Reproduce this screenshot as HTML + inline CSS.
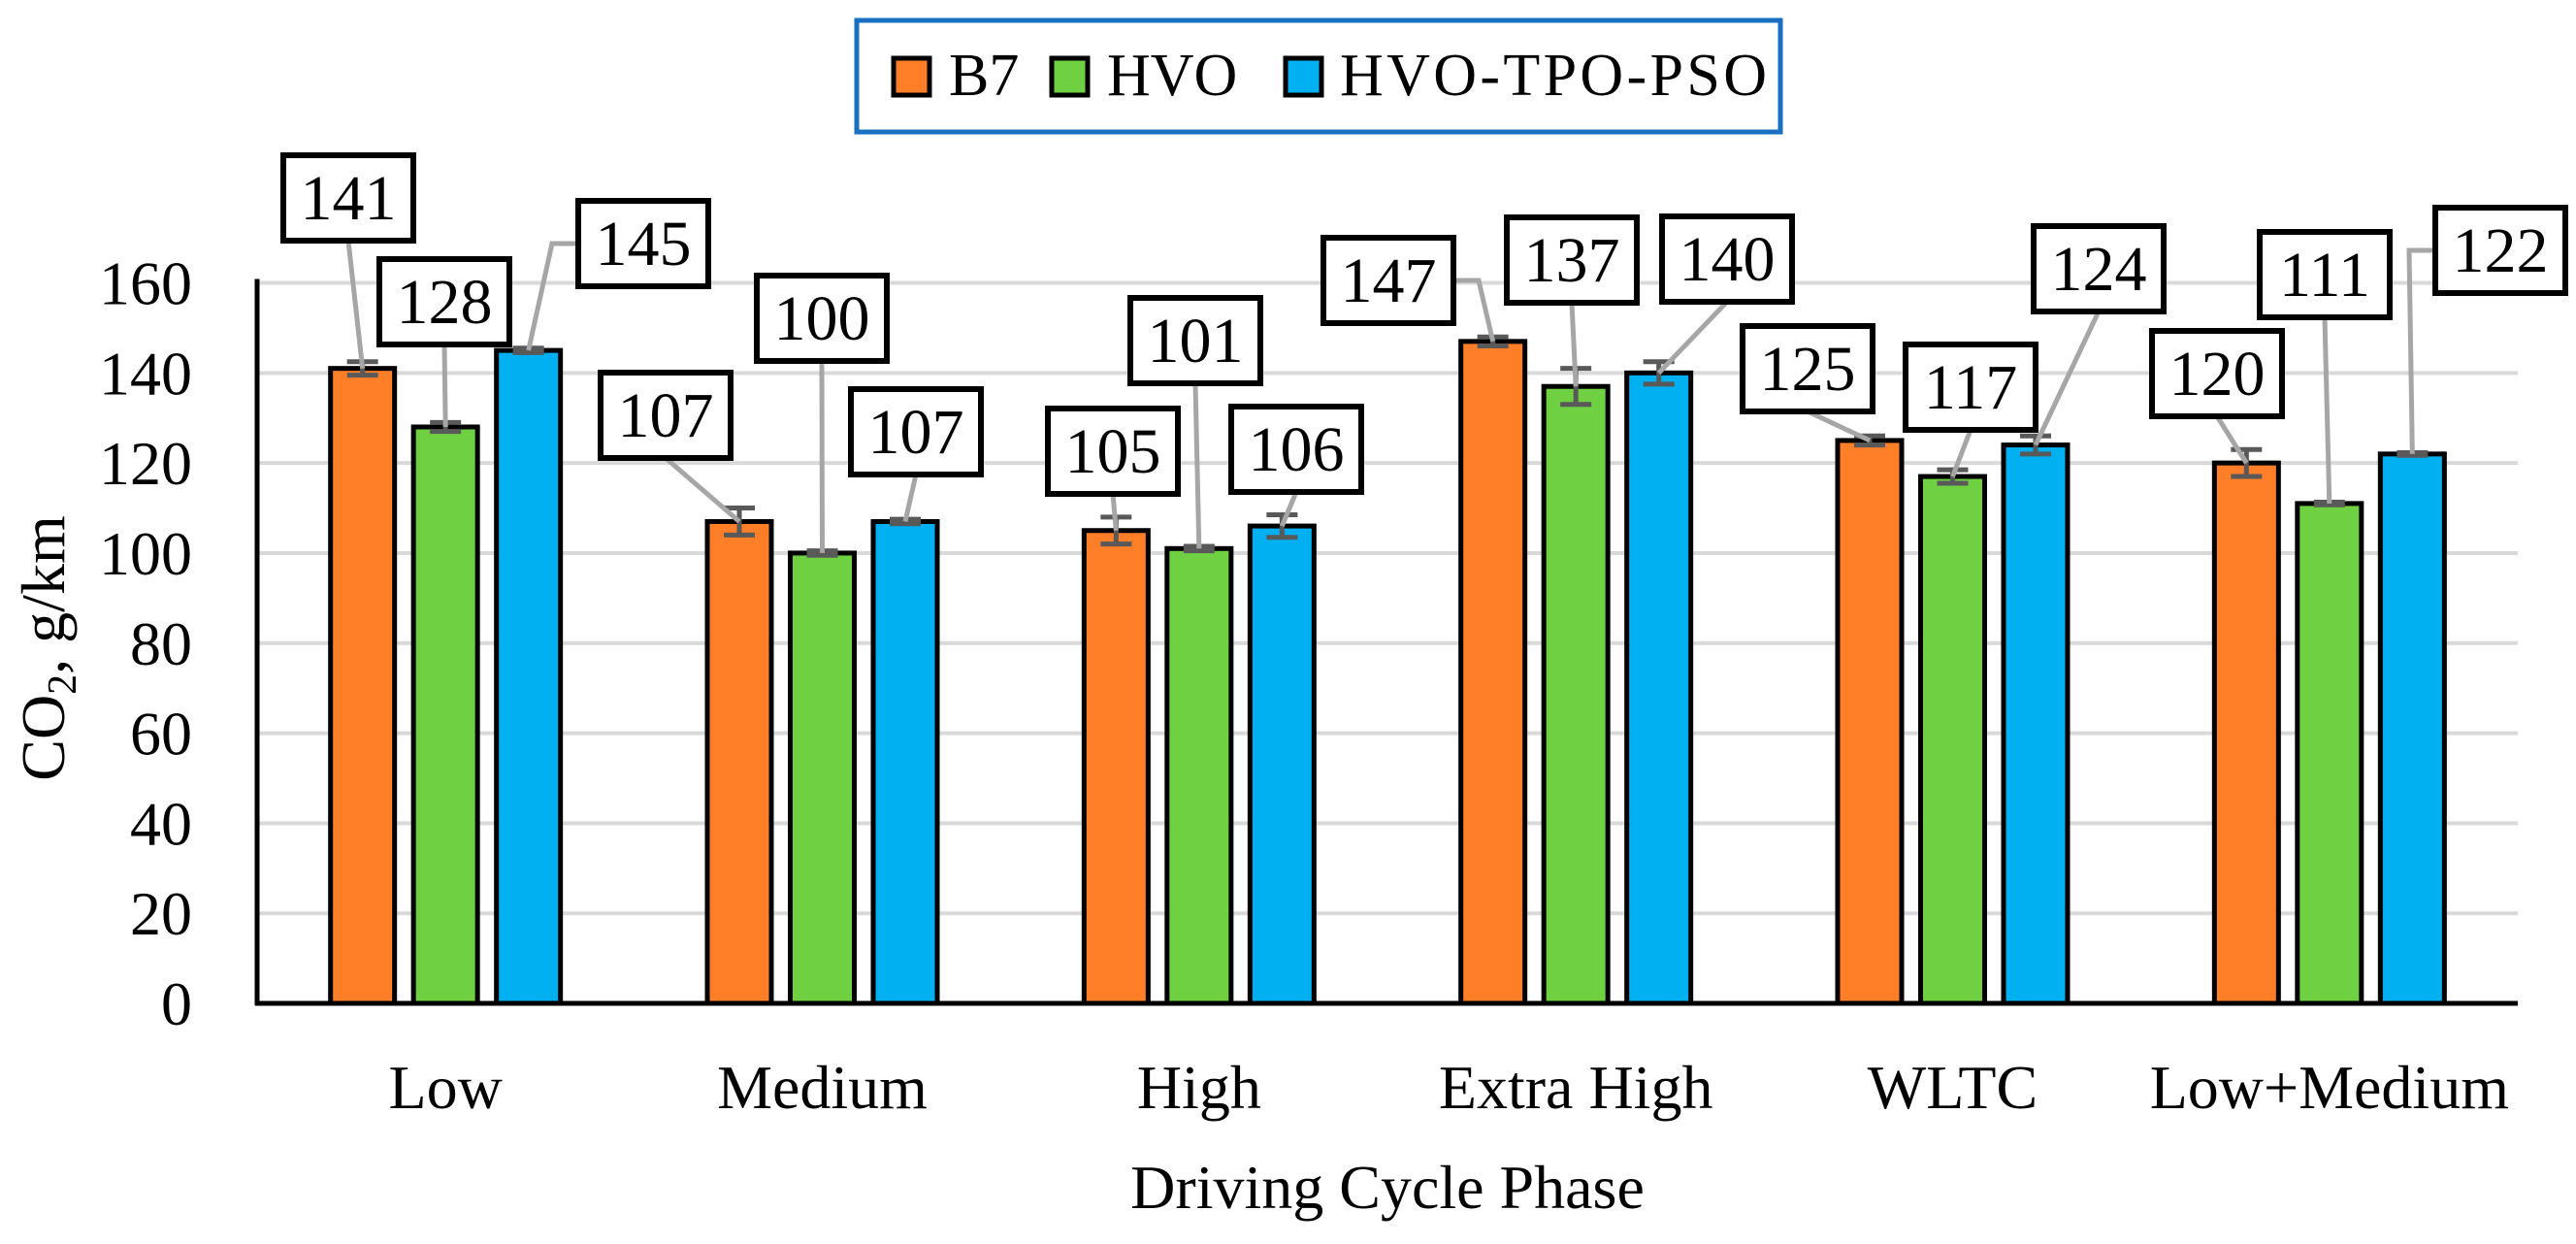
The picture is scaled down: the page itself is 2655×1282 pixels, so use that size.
<!DOCTYPE html>
<html><head><meta charset="utf-8"><style>
html,body{margin:0;padding:0;background:#fff;}
svg text{font-family:"Liberation Serif",serif;}
</style></head><body>
<svg id="chart" width="2655" height="1277" viewBox="0 0 2655 1277" xmlns="http://www.w3.org/2000/svg">
<rect x="0" y="0" width="2655" height="1277" fill="#fff"/>
<g id="grid"></g>
<g id="bars"></g>
<g id="labels"></g>
<g id="axes"></g>
<g>
  <rect x="883" y="21" width="952" height="115" fill="#fff" stroke="#1a70c0" stroke-width="5"/>
  <rect x="921" y="60" width="37" height="38" fill="#fe7f27" stroke="#000" stroke-width="5"/>
  <text x="978" y="98" font-size="62">B7</text>
  <rect x="1084" y="60" width="37" height="38" fill="#6fd142" stroke="#000" stroke-width="5"/>
  <text x="1141" y="98" font-size="62">HVO</text>
  <rect x="1325" y="60" width="37" height="38" fill="#00b0f0" stroke="#000" stroke-width="5"/>
  <text x="1381" y="98" font-size="62" textLength="440">HVO-TPO-PSO</text>
</g>
<text transform="translate(66,668) rotate(-90)" text-anchor="middle" font-size="64">CO<tspan font-size="42" dy="12">2</tspan><tspan dy="-12">, g/km</tspan></text>
<text x="1430" y="1245" text-anchor="middle" font-size="64">Driving Cycle Phase</text>
</svg>
<script>
const categories = ["Low","Medium","High","Extra High","WLTC","Low+Medium"];
const seriesNames = ["B7","HVO","HVO-TPO-PSO"];
const b7 = [141,107,105,147,125,120];
const hvo = [128,100,101,137,117,111];
const tpo = [145,107,106,140,124,122];
const b7Err = [1.5,3,3,1,1,3];
const hvoErr = [1,0.5,0.5,4,1.5,0.3];
const tpoErr = [0.5,0.5,2.5,2.5,2,0.3];
const yTicks = [0,20,40,60,80,100,120,140,160];

const colors = ["#fe7f27","#6fd142","#00b0f0"];
const X0 = 265, X1 = 2595, Y0 = 1034, Y160 = 291.5, YMAX = 160;
const NS = "http://www.w3.org/2000/svg";
function yScale(v){ return Y0 - (v/YMAX)*(Y0-Y160); }
function xCenter(i){ return X0 + (X1-X0)/categories.length*(i+0.5); }
const BAR_W = 66, BAR_STEP = 85.5;
function xBar(i,s){ return xCenter(i) + (s-1)*BAR_STEP; }
function mk(tag, attrs, parent){ const e=document.createElementNS(NS,tag); for(const k in attrs) e.setAttribute(k,attrs[k]); parent.appendChild(e); return e; }

const grid = document.getElementById('grid');
const axes = document.getElementById('axes');
yTicks.forEach(t=>{
  if(t>0){
    const g = mk('line',{x1:X0,x2:X1,y1:yScale(t),y2:yScale(t),stroke:'#d9d9d9','stroke-width':4},grid);
    
    
  }
  const tl = mk('text',{x:198,y:yScale(t)+22,'text-anchor':'end','font-size':64},axes);
  tl.textContent = t;
  
  
});
const ya = mk('line',{x1:X0,x2:X0,y1:Y160-4,y2:Y0+2,stroke:'#000','stroke-width':5},axes);


const xa = mk('line',{x1:X0-2,x2:X1,y1:Y0,y2:Y0,stroke:'#000','stroke-width':5},axes);


categories.forEach((c,i)=>{
  const t = mk('text',{x:xCenter(i),y:1142,'text-anchor':'middle','font-size':64},axes);
  t.textContent = c;
  
  
});

// label box layout (top-left positions; elbow points) - layout only
const boxPos = [
 [[292,160],[391,267],[596,207]],
 [[619,384],[780,284],[877,401]],
 [[1080,421],[1165,307],[1269,419]],
 [[1364,245],[1553,224],[1713,223]],
 [[1796,336],[1964,355],[2096,233]],
 [[2218,341],[2329,239],[2510,214]]
];
// anchor side: 'b' bottom center, 'l' left-middle with elbow, 'r' right-middle with elbow
const anchorSide = [
 ['b','b','l'],['b','b','b'],['b','b','b'],['r','b','b'],['b','b','b'],['b','b','l']
];
const BW=134, BH=88;
const barsG = document.getElementById('bars');
const labelsG = document.getElementById('labels');
const allVals = [b7,hvo,tpo], allErr=[b7Err,hvoErr,tpoErr];
const sKeys = ['b7','hvo','hvo-tpo-pso'];
categories.forEach((c,i)=>{
  const ck = c.toLowerCase().replace(/[^a-z]+/g,'-');
  for(let s=0;s<3;s++){
    const v = allVals[s][i], e = allErr[s][i];
    const xc = xBar(i,s), yt = yScale(v);
    const r = mk('rect',{x:xc-BAR_W/2,y:yt,width:BAR_W,height:Y0-yt,fill:colors[s],stroke:'#000','stroke-width':5},barsG);
    
    
    const eg = mk('path',{d:`M${xc} ${yScale(v+e)}V${yScale(v-e)}M${xc-16} ${yScale(v+e)}H${xc+16}M${xc-16} ${yScale(v-e)}H${xc+16}`,stroke:'#595959','stroke-width':5,fill:'none'},barsG);
    
    
    // label
    const [bx,by] = boxPos[i][s];
    const side = anchorSide[i][s];
    let d;
    if(side==='b') d = `M${bx+BW/2} ${by+BH}L${xc} ${yt}`;
    else if(side==='l') d = `M${bx} ${by+BH/2}H${bx-27}L${xc} ${yt}`;
    else d = `M${bx+BW} ${by+BH/2}H${bx+BW+26}L${xc} ${yt}`;
    const ln = mk('path',{d:d,stroke:'#a6a6a6','stroke-width':5,fill:'none'},labelsG);
    
    
    const bx_ = mk('rect',{x:bx,y:by,width:BW,height:BH,fill:'#fff',stroke:'#000','stroke-width':6},labelsG);
    
    
    const tx = mk('text',{x:bx+BW/2,y:by+BH/2+22,'text-anchor':'middle','font-size':66},labelsG);
    tx.textContent = v;
    
    
  }
});
</script>
</body></html>
